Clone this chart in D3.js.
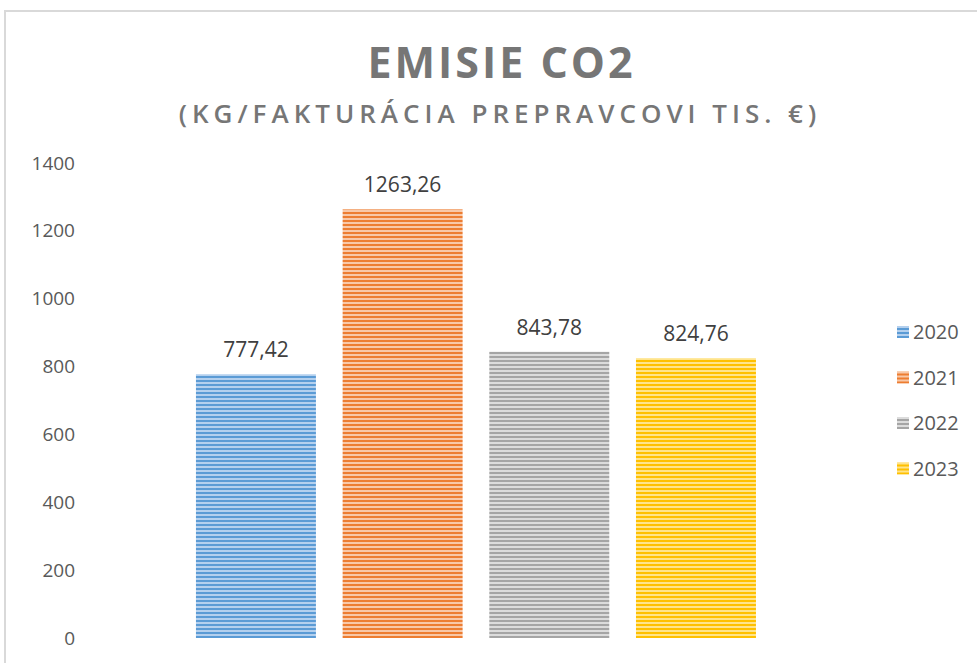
<!DOCTYPE html>
<html>
<head>
<meta charset="utf-8">
<script src="https://cdn.jsdelivr.net/npm/d3@7"></script>
<style>
  body { margin: 0; background: #fff; }
</style>
</head>
<body>
<div id="chart"></div>
<script>
const years = ["2020", "2021", "2022", "2023"];
const values = [777.42, 1263.26, 843.78, 824.76];
const valueLabels = ["777,42", "1263,26", "843,78", "824,76"];
const yTicks = [0, 200, 400, 600, 800, 1000, 1200, 1400];
const colors = ["#5b9bd5", "#ed7d31", "#a5a5a5", "#ffc000"];
const lightColors = ["#b4d0ee", "#f8c8a8", "#dcdcdc", "#ffe48c"];

const width = 977, height = 663;
const font = "'Open Sans', sans-serif";

const svg = d3.select("#chart").append("svg")
    .attr("width", width).attr("height", height);

// stripe patterns like excel's narrow horizontal fill
const defs = svg.append("defs");
years.forEach((yr, i) => {
  const p = defs.append("pattern")
      .attr("id", "stripe" + i)
      .attr("patternUnits", "userSpaceOnUse")
      .attr("width", 8).attr("height", 4);
  p.append("rect").attr("width", 8).attr("height", 4).attr("fill", lightColors[i]);
  p.append("rect").attr("width", 8).attr("height", 2).attr("fill", colors[i]);
});

// chart frame
svg.append("path")
    .attr("d", `M5,${height + 5}V11H${width + 5}`)
    .attr("fill", "none")
    .attr("stroke", "#d9d9d9")
    .attr("stroke-width", 2);

const x = d3.scaleBand()
    .domain(years)
    .range([182.6, 769.3])
    .paddingInner(0.182)
    .paddingOuter(0.091);

const y = d3.scaleLinear()
    .domain([0, 1400])
    .range([638, 163]);

// titles
svg.append("text")
    .attr("x", 500 + 1.5).attr("y", 78)
    .attr("text-anchor", "middle")
    .style("font", `bold 43px ${font}`)
    .style("letter-spacing", "3px")
    .style("fill", "#767676")
    .text("EMISIE CO2");

svg.append("text")
    .attr("x", 497.5 + 2.5).attr("y", 123)
    .attr("text-anchor", "middle")
    .style("font", `600 26px ${font}`)
    .style("letter-spacing", "5px")
    .style("fill", "#767676")
    .text("(KG/FAKTURÁCIA PREPRAVCOVI TIS. €)");

// y axis labels
const yAxis = g => g
    .attr("transform", "translate(75,0)")
    .call(d3.axisLeft(y).tickValues(yTicks).tickFormat(d3.format("d")).tickSize(0).tickPadding(0))
    .call(g => g.select(".domain").remove())
    .call(g => g.selectAll("text")
        .style("font", `19px ${font}`)
        .style("fill", "#595959"));

svg.append("g").call(yAxis);

// bars
svg.append("g")
  .selectAll("rect")
  .data(years)
  .join("rect")
    .attr("x", d => x(d))
    .attr("y", (d, i) => y(values[i]))
    .attr("width", x.bandwidth())
    .attr("height", (d, i) => y(0) - y(values[i]))
    .attr("fill", (d, i) => `url(#stripe${i})`);

// value labels
svg.append("g")
  .selectAll("text")
  .data(years)
  .join("text")
    .attr("x", d => x(d) + x.bandwidth() / 2)
    .attr("y", (d, i) => y(values[i]) - 17)
    .attr("text-anchor", "middle")
    .style("font", `21px ${font}`)
    .style("fill", "#404040")
    .text((d, i) => valueLabels[i]);

// legend
const legend = svg.append("g")
  .selectAll("g")
  .data(years)
  .join("g")
    .attr("transform", (d, i) => `translate(897,${332 + i * 45.5})`);

legend.append("rect")
    .attr("x", 0).attr("y", -6)
    .attr("width", 12).attr("height", 12)
    .attr("fill", (d, i) => `url(#stripe${i})`);

legend.append("text")
    .attr("x", 16).attr("y", 0)
    .attr("dy", "0.35em")
    .style("font", `20px ${font}`)
    .style("fill", "#595959")
    .text(d => d);
</script>
</body>
</html>
